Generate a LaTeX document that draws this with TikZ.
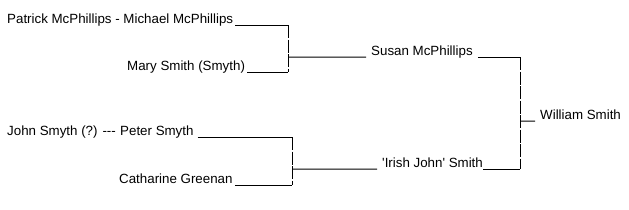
\documentclass[tikz,border=0pt]{standalone}
\usepackage{fontspec}
\setmainfont{Liberation Sans}
\usepackage{tikz}
\usetikzlibrary{calc}

\begin{document}
\begin{tikzpicture}[x=1pt,y=-1pt,
    every node/.style={font=\fontsize{13.33}{16}\selectfont},
    person/.style={inner sep=0pt,text height=9.5pt,text depth=2pt,anchor=base west},
    bar/.style={line width=1pt},
    pipe/.style={line width=1pt,dash pattern=on 13pt off 1.5pt}]
        \useasboundingbox (0,0) rectangle (629,209);
        % first generation
        \node[person] (patrick) at (7,23) {Patrick McPhillips - Michael McPhillips};
        \node[person] (mary) at (127,70) {Mary Smith (Smyth)};
        \node[person] (john) at (7,135) {John Smyth (?) -{}-{}-};
        \node[person] (peter) at (120,135) {Peter Smyth};
        \node[person] (catharine) at (119,183) {Catharine Greenan};
        % second generation
        \node[person] (susan) at (371,55) {Susan McPhillips};
        \node[person] (irish) at (382,167) {\textquotesingle Irish John\textquotesingle{} Smith};
        \node[person] (william) at (540,119) {William Smith};
        \coordinate (fam1) at (288,57);
        \coordinate (fam2) at (292,169);
        \coordinate (fam3) at (520,121);
        % McPhillips side
        \draw[bar] ([xshift=2pt]patrick.south east) -- (patrick.south east -| fam1);
        \draw[bar] ([xshift=2pt]mary.south east) -- (mary.south east -| fam1);
        \draw[pipe] (patrick.south east -| fam1) -- (mary.south east -| fam1);
        \draw[bar] (fam1) -- ([xshift=-5pt]susan.south west);
        % Smyth side
        \draw[bar] ([xshift=4pt]peter.south east) -- (peter.south east -| fam2);
        \draw[bar] ([xshift=2pt]catharine.south east) -- (catharine.south east -| fam2);
        \draw[pipe] (peter.south east -| fam2) -- (catharine.south east -| fam2);
        \draw[bar] (fam2) -- ([xshift=-5pt]irish.south west);
        % William
        \draw[bar] ([xshift=5pt]susan.south east) -- (susan.south east -| fam3);
        \draw[bar] (irish.south east) -- (irish.south east -| fam3);
        \draw[pipe] (susan.south east -| fam3) -- (irish.south east -| fam3);
        \draw[bar] (fam3) -- ([xshift=-5pt]william.south west);
      \end{tikzpicture}
\end{document}
